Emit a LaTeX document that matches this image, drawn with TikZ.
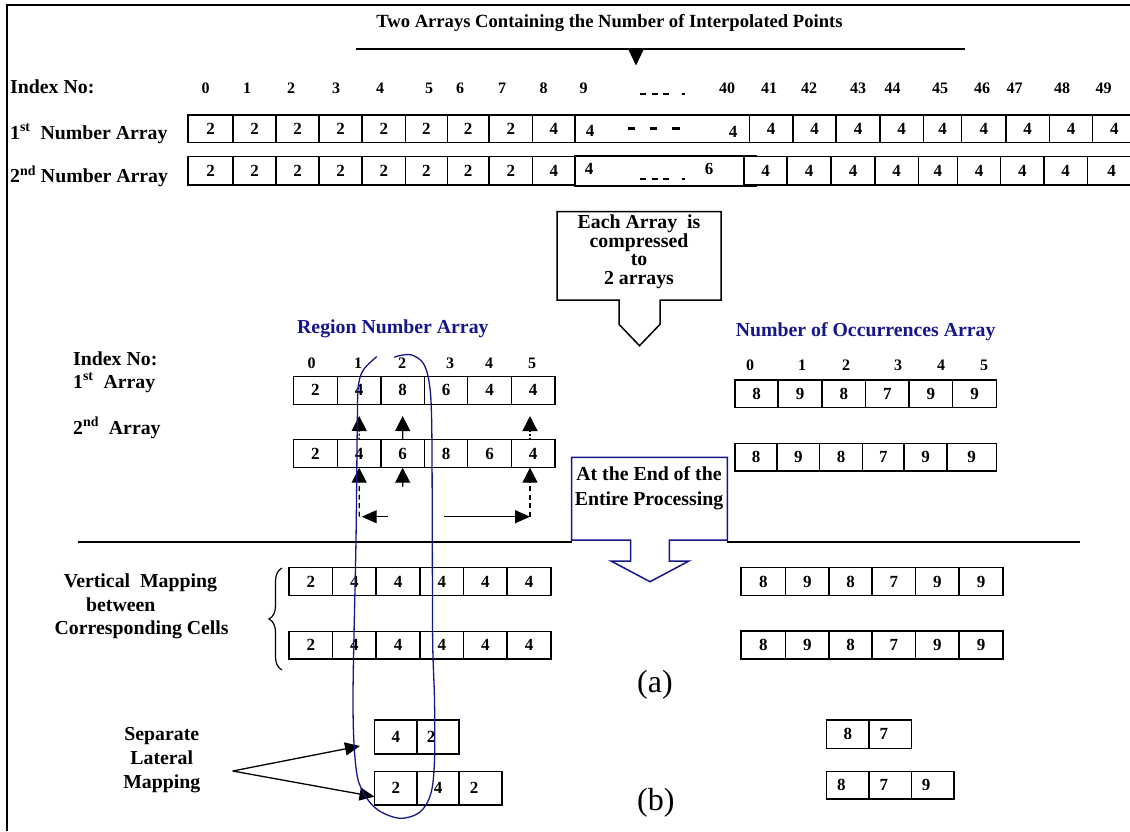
\documentclass[tikz,border=0pt]{standalone}
\usepackage{fontspec}
\setmainfont{Liberation Serif}
\usetikzlibrary{arrows.meta,decorations.pathreplacing}
\definecolor{navy}{HTML}{16168C}

\tikzset{
  cell/.style={draw, line width=1.5pt, fill=white, inner sep=0pt, outer sep=0pt,
    anchor=north west, font=\bfseries\fontsize{17}{17}\selectfont},
  lbl/.style={inner sep=0pt, anchor=base west, font=\bfseries\fontsize{19.8}{19.8}\selectfont},
  idx/.style={inner sep=0pt, anchor=base, font=\bfseries\fontsize{16}{16}\selectfont},
  digit/.style={inner sep=0pt, anchor=base, font=\bfseries\fontsize{17}{17}\selectfont},
  ctext/.style={inner sep=0pt, align=center},
  rule/.style={line width=1.8pt},
  callout/.style={line width=1.5pt, line join=miter},
  varr/.style={line width=1.3pt, -{Triangle[length=15pt,width=15pt]}},
  harr/.style={line width=1.3pt, -{Triangle[length=15pt,width=13pt]}},
  dotline/.style={dash pattern=on 2pt off 2pt},
  dashline/.style={dash pattern=on 5pt off 3.5pt},
}

% one row of cells: name prefix, top edge, height, list of left/right/value
\newcommand\cellrow[4]{%
  \foreach \xa/\xb/\v [count=\i from 0] in {#4}{%
    \node[cell, minimum width={\xb-\xa}, minimum height=#3] (#1-\i) at (\xa,#2) {\v};
  }%
}

\begin{document}
\begin{tikzpicture}[x=1pt,y=-1pt]
\useasboundingbox (0,0) rectangle (1130,831);
\fill[white] (0,0) rectangle (1130,831);

% frame
\coordinate (fr-a) at (7.3,831);
\coordinate (fr-b) at (7.3,5);
\coordinate (fr-c) at (1130,5);
\draw[line width=2pt] (fr-a) -- (fr-b) -- (fr-c);

% ---------- heading ----------
\node[inner sep=0pt, anchor=base, font=\bfseries\fontsize{18.6}{18.6}\selectfont] (title)
  at (609.5,27.7) {Two Arrays Containing the Number of Interpolated Points};
\coordinate (tl-a) at (356,49);
\coordinate (tl-b) at (965,49);
\draw[line width=1.5pt] (tl-a) -- (tl-b);
\coordinate (tl-m) at (636,49);
\coordinate (tl-tip) at (636,65.5);
\draw[line width=1pt, -{Triangle[length=16pt,width=15pt]}] (tl-m) -- (tl-tip);

% ---------- index numbers ----------
\node[lbl] (idx-lbl) at (10,93.3) {Index No:};
\foreach \x/\t [count=\i] in {205.5/0, 247/1, 291/2, 336/3, 380/4, 429/5, 460/6, 502/7,
    543.6/8, 583.6/9, 727/40, 769/41, 809/42, 858/43, 892.7/44, 940/45, 982/46,
    1014.5/47, 1062/48, 1103.6/49}
  \node[idx] (ti-\i) at (\x,93.3) {\t};
\foreach \a/\b in {640/646, 651.7/657.7, 663.3/669.3, 681.7/685}
  \draw[line width=1.5pt] (\a,94) -- (\b,94);

% ---------- the two number arrays ----------
\node[lbl] (na1-lbl) at (10,139.3) {1\textsuperscript{st}\ \ Number Array};
\node[lbl] (na2-lbl) at (10,182.7) {2\textsuperscript{nd} Number Array};

\cellrow{t1}{115}{27.7}{188/233/2, 233/276/2, 276/319/2, 319/362/2, 362/405.5/2,
  405.5/447.3/2, 447.3/489/2, 489/532.7/2, 532.7/575/4}
\node[cell, minimum width=174.3, minimum height=27.7] (t1-big) at (575,115) {};
\node[digit] (t1-big-a) at (590,136.7) {4};
\node[digit] (t1-big-b) at (733,137.3) {4};
\foreach \a/\b in {628.3/635, 650/656.7, 671.7/680}
  \draw[line width=3.3pt] (\a,128.3) -- (\b,128.3);
\cellrow{t1r}{115}{27.7}{749.3/793/4, 793/836/4, 836/880/4, 880/923.3/4, 923.3/961.7/4,
  961.7/1006/4, 1006/1049.3/4, 1049.3/1092.7/4, 1092.7/1136/4}

\cellrow{t2}{156.7}{28.3}{188/233/2, 233/276/2, 276/319/2, 319/362/2, 362/405.5/2,
  405.5/447.3/2, 447.3/489/2, 489/532.7/2, 532.7/575/4}
\node[cell, minimum width=181, minimum height=30] (t2-big) at (575,156) {};
\node[digit] (t2-big-a) at (589,174) {4};
\node[digit] (t2-big-b) at (709,174) {6};
\foreach \a/\b in {640/646, 651.7/657.7, 663.3/669.3, 681.7/685}
  \draw[line width=1.5pt] (\a,179) -- (\b,179);
\cellrow{t2r}{156.7}{28.3}{744/787/4, 787/831/4, 831/875/4, 875/918.3/4, 918.3/957.3/4,
  957.3/1000.7/4, 1000.7/1044/4, 1044/1087.3/4, 1087.3/1136/4}

% ---------- compression callout ----------
\draw[callout] (557,211.7) -- (721,211.7) -- (721,300) -- (660,300) -- (660,324.3)
  -- (639.5,345.7) -- (619,324.3) -- (619,300) -- (557,300) -- cycle;
\node[ctext, font=\bfseries\fontsize{19.8}{18.6}\selectfont] (c1) at (639,251.6)
  {Each Array\ \ is\\compressed\\to\\2 arrays};

% ---------- region number array ----------
\node[lbl, text=navy] (rna) at (297,333) {Region Number Array};
\node[lbl] (r-idx) at (73,365) {Index No:};
\node[lbl] (r-1st) at (73,388.3) {1\textsuperscript{st}\ \ Array};
\node[lbl] (r-2nd) at (73,434) {2\textsuperscript{nd}\ \ Array};
\foreach \x/\t [count=\i from 0] in {311.6/0, 358/1, 402/2, 450/3, 489/4, 532/5}
  \node[idx] (ri-\i) at (\x,368) {\t};
\cellrow{r1}{376.3}{28}{293.5/337.3/2, 337.3/381/4, 381/424.3/8, 424.3/467.7/6,
  467.7/511.3/4, 511.3/555/4}
\cellrow{r2}{439.7}{28}{293.5/337.3/2, 337.3/381/4, 381/424.3/6, 424.3/467.7/8,
  467.7/511.3/6, 511.3/555/4}

% ---------- number of occurrences array ----------
\node[lbl, text=navy] (noa) at (735.6,336.7) {Number of Occurrences Array};
\foreach \x/\t [count=\i from 0] in {750/0, 802/1, 846/2, 898/3, 941/4, 984/5}
  \node[idx] (oi-\i) at (\x,370) {\t};
\cellrow{o1}{380}{27.7}{735/778/8, 778/822/9, 822/865.5/8, 865.5/909/7, 909/952.7/9,
  952.7/996.4/9}
\cellrow{o2}{443.3}{27.7}{735/777/8, 777/819.6/9, 819.6/862.5/8, 862.5/904/7, 904/947/9,
  947/996.4/9}

% ---------- mapping arrows between the region rows ----------
\coordinate (u1) at (359.2,416);
\draw[varr, dotline] (r2-1.north) -- (u1);
\coordinate (u2) at (402.7,416);
\draw[varr] (r2-2.north) -- (u2);
\coordinate (u5a) at (530,439.7);
\coordinate (u5) at (530,416);
\draw[varr, dotline] (u5a) -- (u5);
\coordinate (l1) at (359.2,516.7);
\draw[varr, dashline] (l1) -- (r2-1.south);
\coordinate (l2) at (402.7,486.7);
\draw[varr] (l2) -- (r2-2.south);
\coordinate (l5) at (530,516.7);
\coordinate (l5t) at (530,467.7);
\draw[varr, dashline] (l5) -- (l5t);
\coordinate (h1a) at (388,516.7);
\coordinate (h1b) at (361.7,516.7);
\draw[harr] (h1a) -- (h1b);
\coordinate (h2a) at (444,516.7);
\draw[harr] (h2a) -- (l5);

% ---------- end-of-processing callout and separator ----------
\draw[callout, navy] (571.7,457.3) -- (727.3,457.3) -- (727.3,540) -- (669.3,540)
  -- (669.3,561) -- (689,561) -- (650,581.7) -- (611,561) -- (630.7,561)
  -- (630.7,540) -- (571.7,540) -- cycle;
\node[ctext, font=\bfseries\fontsize{19.8}{25.7}\selectfont] (c2) at (649,488.3)
  {At the End of the\\Entire Processing};
\coordinate (sep-a) at (77.5,541.7);
\coordinate (sep-b) at (571.7,541.7);
\coordinate (sep-c) at (727.3,541.7);
\coordinate (sep-d) at (1080,541.7);
\draw[rule] (sep-a) -- (sep-b);
\draw[rule] (sep-c) -- (sep-d);

% ---------- (a) vertical mapping ----------
\node[inner sep=0pt, anchor=west, align=left, font=\bfseries\fontsize{19.8}{23.8}\selectfont]
  (vm) at (54.5,606.5)
  {\hspace*{9.1pt}Vertical\ \ Mapping\\\hspace*{31.5pt}between\\Corresponding Cells};
\coordinate (br-a) at (282,670);
\coordinate (br-b) at (282,568);
\draw[line width=1.2pt, decorate, decoration={brace, amplitude=13pt}] (br-a) -- (br-b);
\cellrow{a1}{567.7}{28}{289/332.7/2, 332.7/376/4, 376/420/4, 420/463.6/4, 463.6/507/4,
  507/551/4}
\cellrow{a2}{631.7}{27.3}{289/332.7/2, 332.7/376/4, 376/420/4, 420/463.6/4, 463.6/507/4,
  507/551/4}
\cellrow{ao1}{567.7}{28}{741/785.5/8, 785.5/829/9, 829/872/8, 872/915.6/7, 915.6/959/9,
  959/1003/9}
\cellrow{ao2}{631}{28}{741/785.5/8, 785.5/829/9, 829/872/8, 872/915.6/7, 915.6/959/9,
  959/1003/9}
\node[inner sep=0pt, anchor=base west, font=\fontsize{32}{32}\selectfont] (cap-a)
  at (637,692) {(a)};

% ---------- (b) separate lateral mapping ----------
\node[ctext, font=\bfseries\fontsize{19.8}{23.7}\selectfont] (slm) at (161.8,760.1)
  {Separate\\Lateral\\Mapping};
\cellrow{b1}{720}{34}{374.5/417/4, 417/459/{2\hspace*{14pt}}}
\cellrow{b2}{771.7}{33.3}{374.5/417/2, 417/459/4, 459/502/{2\hspace*{13pt}}}
\cellrow{bo1}{720}{28.3}{826.5/869/8, 869/911.6/{7\hspace*{13pt}}}
\cellrow{bo2}{771.7}{27.3}{826.5/869/{8\hspace*{13pt}}, 869/911.6/{7\hspace*{13pt}},
  911.6/953.8/{9\hspace*{13pt}}}
\coordinate (lat) at (232.7,771);
\coordinate (lat-a) at (360,746);
\coordinate (lat-b) at (374.5,796.7);
\draw[harr] (lat) -- (lat-a);
\draw[harr] (lat) -- (lat-b);
\node[inner sep=0pt, anchor=base west, font=\fontsize{32}{32}\selectfont] (cap-b)
  at (637,810) {(b)};

% ---------- hand-drawn loop round the mapped column ----------
\draw[navy, line width=1.3pt] plot[smooth, tension=0.55] coordinates {
  (376.7,356.7) (363.3,370) (358.3,386.7) (357.3,423) (356,540) (353,700)
  (356,768) (363.6,793) (378,810) (400,818.3) (420,812) (431,793) (434.5,760)
  (434.5,700) (432.7,643) (432.3,540) (431.7,423.3) (429.3,383.3) (423.3,363.3)
  (411.7,355) (400,355.5) (394.3,357.3)};
\end{tikzpicture}
\end{document}
